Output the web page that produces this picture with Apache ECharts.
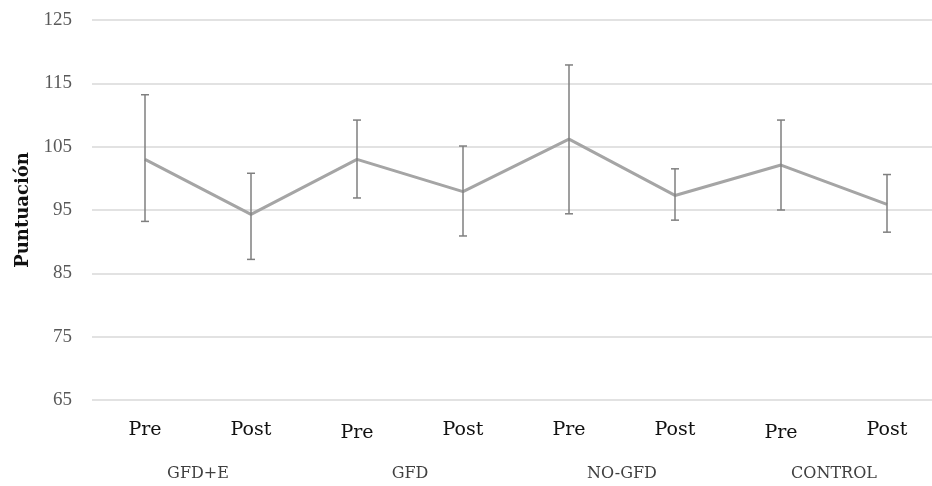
<!DOCTYPE html>
<html>
<head>
<meta charset="utf-8">
<script src="https://cdn.jsdelivr.net/npm/echarts@6/dist/echarts.min.js"></script>
<style>
html,body{margin:0;padding:0;background:#fff;overflow:hidden;}
#chart{width:940px;height:486px;}
</style>
</head>
<body>
<div id="chart"></div>
<script>
// ---- data ----
var categories = ['Pre', 'Post', 'Pre', 'Post', 'Pre', 'Post', 'Pre', 'Post'];
var groups = ['GFD+E', 'GFD', 'NO-GFD', 'CONTROL'];
var meanValues = [103.0, 94.3, 103.0, 97.9, 106.2, 97.3, 102.1, 95.9];
var upperValues = [113.2, 100.8, 109.2, 105.1, 117.9, 101.5, 109.2, 100.6];
var lowerValues = [93.2, 87.2, 96.9, 90.9, 94.4, 93.4, 95.0, 91.5];
var yTicks = { min: 65, max: 125, interval: 10 };
var yAxisName = 'Puntuación';

var errorData = meanValues.map(function (v, i) { return [i, lowerValues[i], upperValues[i]]; });

var chart = echarts.init(document.getElementById('chart'), null, { renderer: 'canvas' });
chart.setOption({
  animation: false,
  backgroundColor: '#ffffff',
  grid: { left: 92, top: 20, width: 848, height: 380, containLabel: false },
  xAxis: [
    {
      type: 'category',
      data: categories,
      boundaryGap: true,
      axisLine: { show: false },
      axisTick: { show: false },
      splitLine: { show: false },
      axisLabel: {
        margin: 21,
        fontFamily: 'DejaVu Serif',
        fontSize: 19,
        color: '#111111',
        interval: 0,
        formatter: function (v, i) { return (i === 2 || i === 6) ? '{lo|' + v + '}' : '{n|' + v + '}'; },
        rich: {
          n: { fontFamily: 'DejaVu Serif', fontSize: 19, color: '#111111' },
          lo: { fontFamily: 'DejaVu Serif', fontSize: 19, color: '#111111', padding: [3, 0, 0, 0] }
        }
      }
    },
    {
      type: 'category',
      data: groups,
      position: 'bottom',
      offset: 58,
      gridIndex: 0,
      axisLine: { show: false },
      axisTick: { show: false },
      splitLine: { show: false },
      axisLabel: {
        margin: 8,
        fontFamily: 'DejaVu Serif',
        fontSize: 16,
        color: '#404040',
        interval: 0
      }
    }
  ],
  yAxis: {
    type: 'value',
    min: yTicks.min,
    max: yTicks.max,
    interval: yTicks.interval,
    name: yAxisName,
    nameLocation: 'middle',
    nameRotate: 90,
    nameGap: 58,
    nameTextStyle: { fontFamily: 'DejaVu Serif', fontSize: 18, fontWeight: 'bold', color: '#111111' },
    axisLine: { show: false },
    axisTick: { show: false },
    axisLabel: { margin: 20, fontFamily: 'Liberation Serif', fontSize: 19, color: '#595959' },
    splitLine: { show: true, lineStyle: { color: '#d9d9d9', width: 1.5 } }
  },
  series: [
    {
      type: 'line',
      xAxisIndex: 0,
      data: meanValues,
      symbol: 'none',
      lineStyle: { color: '#a5a5a5', width: 3 },
      z: 2
    },
    {
      type: 'custom',
      xAxisIndex: 0,
      data: errorData,
      z: 3,
      renderItem: function (params, api) {
        var x = api.value(0);
        var lo = api.coord([x, api.value(1)]);
        var hi = api.coord([x, api.value(2)]);
        var hw = 4;
        var st = { stroke: '#7f7f7f', lineWidth: 1.5 };
        return {
          type: 'group',
          children: [
            { type: 'line', shape: { x1: lo[0], y1: lo[1], x2: hi[0], y2: hi[1] }, style: st },
            { type: 'line', shape: { x1: lo[0] - hw, y1: lo[1], x2: lo[0] + hw, y2: lo[1] }, style: st },
            { type: 'line', shape: { x1: hi[0] - hw, y1: hi[1], x2: hi[0] + hw, y2: hi[1] }, style: st }
          ]
        };
      }
    }
  ]
});
</script>
</body>
</html>
